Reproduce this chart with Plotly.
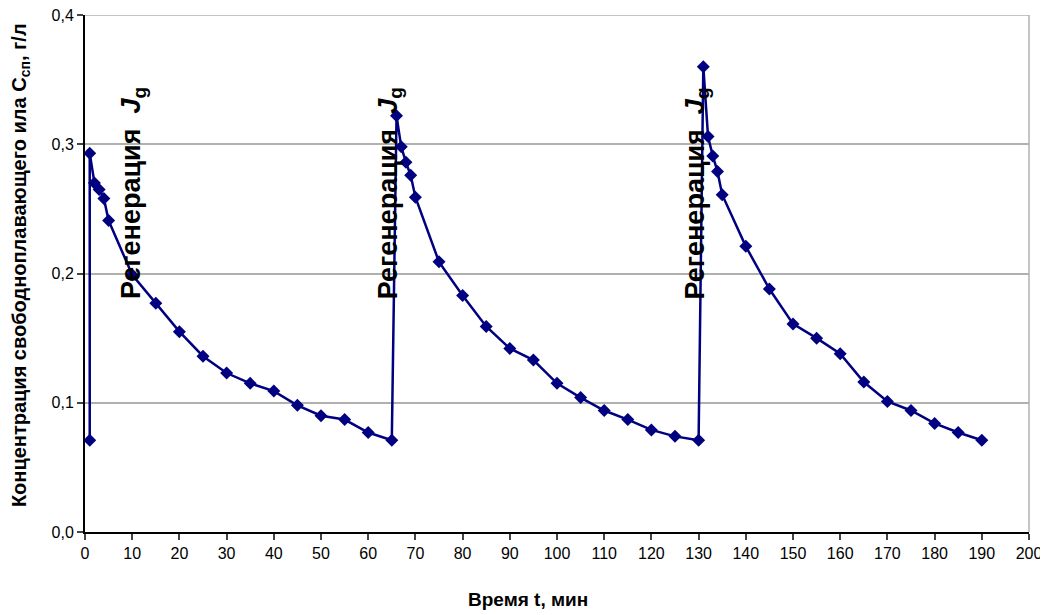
import plotly.graph_objects as go

time_min = [1, 1, 2, 3, 4, 5, 10, 15, 20, 25, 30, 35, 40, 45, 50, 55, 60, 65,
            66, 67, 68, 69, 70, 75, 80, 85, 90, 95, 100, 105, 110, 115, 120, 125, 130,
            131, 132, 133, 134, 135, 140, 145, 150, 155, 160, 165, 170, 175, 180, 185, 190]
conc = [0.071, 0.293, 0.270, 0.265, 0.258, 0.241, 0.199, 0.177, 0.155, 0.136, 0.123, 0.115, 0.109, 0.098, 0.090, 0.087, 0.077, 0.071,
        0.322, 0.298, 0.286, 0.276, 0.259, 0.209, 0.183, 0.159, 0.142, 0.133, 0.115, 0.104, 0.094, 0.087, 0.079, 0.074, 0.071,
        0.360, 0.306, 0.291, 0.279, 0.261, 0.221, 0.188, 0.161, 0.150, 0.138, 0.116, 0.101, 0.094, 0.084, 0.077, 0.071]

x_ticks = list(range(0, 201, 10))
y_ticks = [0.0, 0.1, 0.2, 0.3, 0.4]
y_tick_labels = ["0,0", "0,1", "0,2", "0,3", "0,4"]

label_x = [10.3, 64.6, 129.7]
label_y = [0.262, 0.262, 0.262]
label_text = "<b>Регенерация&nbsp;&nbsp;<i>J</i><sub>g</sub></b>"
y_title = "<b>Концентрация свободноплавающего ила C<sub>сп</sub>, г/л</b>"
x_title = "<b>Время t, мин</b>"

fig = go.Figure()
fig.add_trace(go.Scatter(
    x=time_min, y=conc, mode="lines+markers",
    line=dict(color="#000080", width=2.5),
    marker=dict(symbol="diamond", size=10, color="#000080"),
    showlegend=False,
))

for lx, ly in zip(label_x, label_y):
    fig.add_annotation(x=lx, y=ly, text=label_text, textangle=-90, showarrow=False,
                       font=dict(family="Arial, Liberation Sans", size=27, color="black"),
                       xanchor="center", yanchor="middle")

fig.add_annotation(xref="paper", yref="paper", x=-0.069, y=0.516, text=y_title, textangle=-90,
                   showarrow=False, xanchor="center", yanchor="middle",
                   font=dict(family="Arial, Liberation Sans", size=20, color="black"))
fig.add_annotation(xref="paper", yref="paper", x=0.469, y=-0.1315, text=x_title,
                   showarrow=False, xanchor="center", yanchor="middle",
                   font=dict(family="Arial, Liberation Sans", size=19, color="black"))

fig.update_layout(
    width=1040, height=607,
    margin=dict(l=77, r=19, t=7, b=83),
    plot_bgcolor="white", paper_bgcolor="white",
    font=dict(family="Arial, Liberation Sans", color="black", size=16),
)
fig.update_xaxes(
    range=[0, 200], tickvals=x_ticks, ticks="outside", ticklen=6, tickwidth=1.5,
    showline=True, linecolor="black", linewidth=2, showgrid=False, zeroline=False,
    tickfont=dict(size=16), automargin=False, ticklabeloverflow="allow",
)
fig.update_yaxes(
    range=[0, 0.4], tickvals=y_ticks, ticktext=y_tick_labels, ticks="outside", ticklen=6, tickwidth=1.5,
    showline=True, linecolor="black", linewidth=2, showgrid=True, gridcolor="#b0b0b0", gridwidth=1.5,
    zeroline=False, tickfont=dict(size=16), automargin=False, ticklabeloverflow="allow",
)
fig.add_shape(type="line", xref="paper", yref="paper", x0=1, x1=1, y0=0, y1=1,
              line=dict(color="#b0b0b0", width=1.5))
fig.add_shape(type="line", xref="paper", yref="y", x0=0, x1=1, y0=y_ticks[-1], y1=y_ticks[-1],
              line=dict(color="#b0b0b0", width=1.5))

fig.write_html("out.html")
